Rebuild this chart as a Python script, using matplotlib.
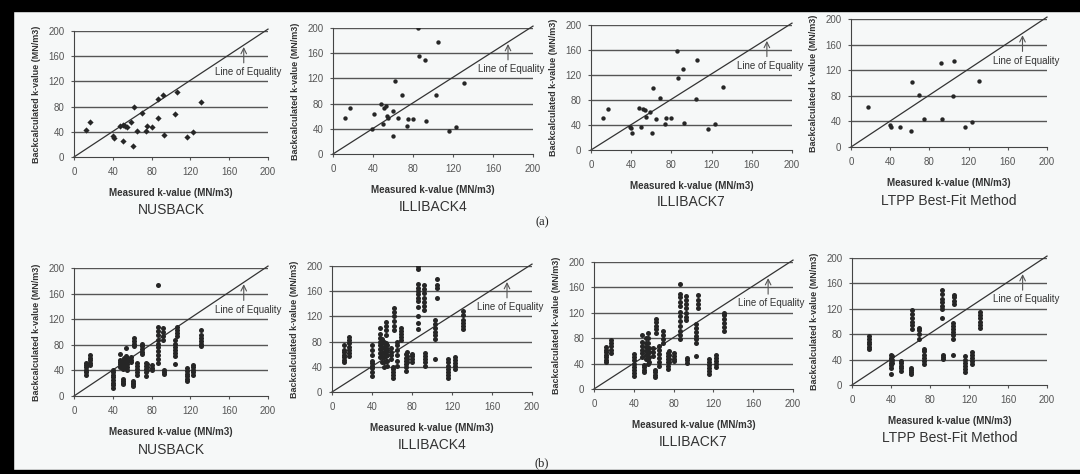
import matplotlib.pyplot as plt
from matplotlib.patches import Rectangle

plt.rcParams["font.family"] = ["Liberation Sans", "DejaVu Sans"]

# (a) 单点数据：实测 k 值 / 反算 k 值
nus_a_x = [12, 17, 40, 41, 47, 50, 51, 53, 55, 59, 62, 61, 65, 70, 74, 75, 80, 87, 87, 92, 93, 104, 106, 116, 123, 131]
nus_a_y = [43, 55, 33, 30, 50, 26, 51, 49, 47, 55, 80, 18, 42, 70, 41, 49, 47, 62, 92, 98, 35, 69, 103, 32, 40, 88]

ill4_a_x = [12, 17, 39, 41, 48, 50, 51, 53, 54, 55, 60, 60, 62, 65, 69, 74, 75, 80, 85, 86, 92, 93, 103, 105, 116, 123, 131]
ill4_a_y = [57, 73, 39, 64, 80, 48, 73, 76, 60, 57, 68, 29, 116, 57, 94, 44, 56, 55, 200, 155, 150, 52, 94, 178, 36, 43, 113]

ill7_a_x = [12, 17, 39, 40, 41, 48, 50, 52, 54, 55, 59, 62, 61, 65, 69, 74, 75, 80, 86, 87, 92, 93, 104, 105, 116, 123, 131]
ill7_a_y = [52, 65, 37, 36, 28, 68, 37, 65, 64, 53, 61, 100, 27, 50, 84, 42, 52, 51, 158, 115, 129, 44, 82, 144, 33, 42, 101]

ltpp_a_x = [17, 40, 41, 50, 61, 62, 69, 74, 92, 93, 104, 105, 116, 123, 131]
ltpp_a_y = [63, 35, 32, 31, 25, 101, 82, 43, 131, 44, 80, 135, 31, 39, 103]

# (b) 每个实测值对应多组反算结果
nus_b = [
    (12, [33, 37, 41, 45, 49, 52]),
    (17, [48, 52, 56, 60, 64]),
    (40, [13, 17, 21, 25, 29, 33, 37, 40]),
    (47, [45, 50, 53, 57, 66]),
    (50, [18, 21, 24, 27, 42, 46, 50]),
    (52, [44, 48, 53, 57, 60]),
    (54, [48, 52, 56, 62, 75]),
    (55, [40, 45, 50, 55, 60]),
    (59, [53, 57, 61]),
    (61, [15, 18, 21, 24]),
    (62, [78, 82, 86, 90]),
    (65, [33, 38, 42, 47, 52]),
    (70, [65, 69, 73, 78, 82]),
    (74, [32, 37, 42, 47, 52]),
    (75, [40, 45, 50]),
    (80, [40, 44, 48]),
    (87, [52, 58, 64, 70, 76, 82, 88, 95, 102, 108, 174]),
    (92, [88, 94, 100, 106]),
    (93, [35, 38, 40]),
    (104, [50, 62, 67, 72, 77, 82, 87]),
    (106, [93, 98, 103, 108]),
    (116, [23, 27, 31, 35, 39, 43]),
    (123, [33, 37, 41, 45, 48]),
    (131, [78, 82, 86, 90, 95, 103]),
]

ill4_b = [
    (12, [47, 51, 55, 59, 63, 67, 74]),
    (17, [57, 62, 67, 72, 77, 82, 88]),
    (40, [25, 32, 38, 42, 46, 50, 58, 66, 75]),
    (48, [55, 62, 68, 74, 80, 86, 92, 101]),
    (50, [48, 55, 62, 70, 77, 84]),
    (52, [40, 48, 56, 64, 72, 80]),
    (54, [50, 57, 63, 70, 77, 90, 98, 105, 111]),
    (55, [42, 50, 58, 66, 74]),
    (59, [52, 58, 64, 70]),
    (61, [22, 27, 32, 37, 40]),
    (62, [98, 105, 113, 120, 127, 134]),
    (65, [42, 50, 58, 66, 74, 80]),
    (69, [82, 87, 92, 97, 102]),
    (74, [34, 39, 44, 49, 54, 60]),
    (75, [47, 52, 57, 63]),
    (80, [47, 52, 57, 61]),
    (86, [100, 110, 120, 135, 145, 150, 155, 160, 165, 172, 195, 200]),
    (92, [130, 137, 143, 150, 157, 163, 170]),
    (93, [42, 47, 52, 57, 62]),
    (103, [52, 84, 90, 96, 102, 108, 114]),
    (105, [150, 165, 170, 180]),
    (116, [22, 27, 32, 37, 42, 47, 53]),
    (123, [36, 41, 46, 51, 56]),
    (131, [100, 105, 110, 115, 122, 128]),
]

ill7_b = [
    (12, [42, 46, 50, 54, 58, 62, 66]),
    (17, [57, 62, 67, 72, 77]),
    (40, [20, 25, 30, 35, 40, 45, 50, 55]),
    (48, [50, 56, 62, 68, 74, 85]),
    (50, [26, 30, 34, 38]),
    (52, [48, 54, 60, 66, 72, 80]),
    (54, [40, 48, 56, 64, 72, 80, 88]),
    (55, [42, 50, 58, 64]),
    (59, [52, 58, 64]),
    (61, [19, 22, 26, 30]),
    (62, [88, 94, 100, 106, 110]),
    (65, [37, 43, 49, 55, 61, 67]),
    (69, [73, 79, 85, 91]),
    (74, [32, 37, 42, 47, 52, 56]),
    (75, [42, 48, 54, 60]),
    (80, [44, 48, 52, 56]),
    (86, [78, 85, 92, 100, 107, 115, 122, 130, 137, 145, 150, 166]),
    (92, [108, 114, 120, 127, 134, 140, 146]),
    (93, [41, 45, 49]),
    (103, [52, 72, 78, 84, 90, 96, 102]),
    (105, [128, 134, 140, 148]),
    (116, [23, 28, 33, 38, 43, 48]),
    (123, [34, 39, 44, 49, 53]),
    (131, [92, 98, 104, 110, 116, 120]),
]

ltpp_b = [
    (17, [56, 60, 64, 68, 72, 77]),
    (40, [18, 27, 31, 35, 39, 43, 47]),
    (41, [35, 40, 45]),
    (50, [22, 26, 30, 34, 38]),
    (61, [18, 21, 24, 27]),
    (62, [88, 94, 100, 106, 112, 118]),
    (69, [72, 80, 86, 90]),
    (74, [33, 38, 43, 48, 53, 57]),
    (92, [106, 120, 125, 130, 135, 143, 150]),
    (93, [41, 44, 47]),
    (104, [48, 73, 78, 83, 88, 93, 97]),
    (105, [128, 133, 138, 142]),
    (116, [20, 25, 30, 35, 40, 45]),
    (123, [33, 38, 43, 48, 52]),
    (131, [90, 95, 100, 105, 110, 115]),
]

titles = ["NUSBACK", "ILLIBACK4", "ILLIBACK7", "LTPP Best-Fit Method"]
ticks = [0, 40, 80, 120, 160, 200]

BG = "#f6f8f8"
INK = "#262626"

# 各子图在画布上的像素位置 (左, 右, 上, 下)
boxes = [
    (74, 268, 31, 157), (333, 533, 28, 154), (591, 792, 25, 150), (851, 1047, 19, 147),
    (74, 268, 268, 396), (332, 532, 266, 392), (594, 793, 262, 389), (852, 1047, 258, 385),
]

W, H = 1080, 474


def flatten(stacks):
    xs, ys = [], []
    for x, vals in stacks:
        for v in vals:
            xs.append(x)
            ys.append(v)
    return xs, ys


def plot_panel(fig, box, xs, ys, title, marker, size):
    l, r, t, b = box
    ax = fig.add_axes([l / W, 1 - b / H, (r - l) / W, (b - t) / H])
    ax.set_facecolor(BG)
    ax.set_xlim(0, 200)
    ax.set_ylim(0, 200)
    for y in ticks[1:]:
        ax.axhline(y, color="#555555", lw=1.0, zorder=1)
    ax.plot([0, 200], [0, 203], color="#333333", lw=0.9, zorder=2, clip_on=False)
    ax.scatter(xs, ys, s=size, marker=marker, color=INK, lw=0, zorder=3)

    ax.set_xticks(ticks)
    ax.set_yticks(ticks)
    ax.tick_params(labelsize=7, colors="#555555", length=2, pad=5)
    for s in ["top", "right"]:
        ax.spines[s].set_visible(False)
    for s in ["left", "bottom"]:
        ax.spines[s].set_color("#444444")

    ax.set_xlabel("Measured k-value (MN/m3)", fontsize=7, fontweight="bold",
                  color="#333333", labelpad=8)
    ax.set_ylabel("Backcalculated k-value (MN/m3)", fontsize=6.5, fontweight="bold",
                  color="#333333", labelpad=5)

    ax.annotate("", xy=(175, 179), xytext=(175, 145),
                arrowprops=dict(arrowstyle="->", color="#555555", lw=0.8))
    ax.text(145, 130, "Line of Equality", fontsize=7, color="#333333",
            clip_on=False)

    ax.text(0.5, -0.42, title, transform=ax.transAxes, ha="center", va="center",
            fontsize=10, color="#333333")
    return ax


fig = plt.figure(figsize=(W / 100, H / 100), dpi=100, facecolor=BG)

top = [(nus_a_x, nus_a_y), (ill4_a_x, ill4_a_y), (ill7_a_x, ill7_a_y), (ltpp_a_x, ltpp_a_y)]
bottom = [flatten(nus_b), flatten(ill4_b), flatten(ill7_b), flatten(ltpp_b)]

for i, (xs, ys) in enumerate(top):
    plot_panel(fig, boxes[i], xs, ys, titles[i], "D" if i == 0 else "o", 10)
for i, (xs, ys) in enumerate(bottom):
    plot_panel(fig, boxes[i + 4], xs, ys, titles[i], "o", 13)

fig.text(542 / W, 1 - 222 / H, "(a)", ha="center", va="center", fontsize=9,
         family="Liberation Serif", color="#222222")
fig.text(542 / W, 1 - 463 / H, "(b)", ha="center", va="center", fontsize=9,
         family="Liberation Serif", color="#222222")

# 黑色扫描边框
for x0, y0, w, h in [(0, 0, 1, 11 / H), (0, 0, 13 / W, 1), (0, 1 - 4 / H, 1, 4 / H)]:
    fig.add_artist(Rectangle((x0, 1 - y0 - h), w, h, transform=fig.transFigure,
                             color="black", zorder=10))

fig.savefig("out.png", dpi=100, facecolor=BG)
